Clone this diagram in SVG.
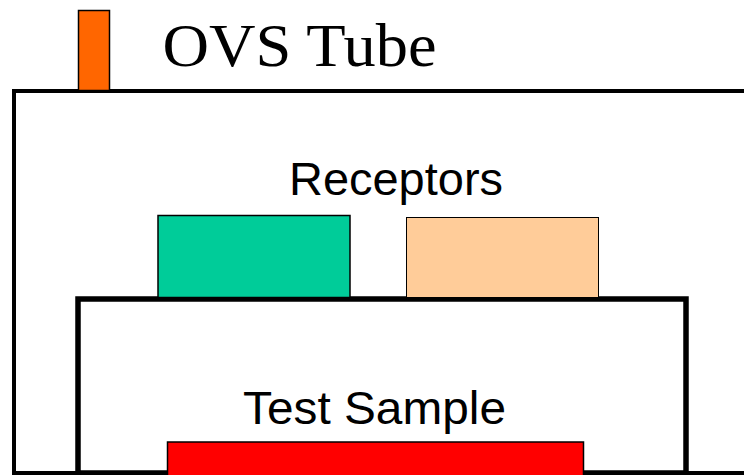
<svg xmlns="http://www.w3.org/2000/svg" width="744" height="475" viewBox="0 0 744 475">
<style>
.sans{font-family:"Liberation Sans",Arial,sans-serif;font-size:47px;fill:#000;text-anchor:middle}
.serif{font-family:"Liberation Serif","Times New Roman",serif;font-size:62px;fill:#000}
.box{stroke:#000;stroke-width:1.5}
</style>
<rect width="744" height="475" fill="#fff"/>
<g id="tube">
<rect x="14" y="91" width="760" height="382" fill="#fff" stroke="#000" stroke-width="4"/>
</g>
<g id="vent">
<rect x="78.5" y="10.5" width="31" height="80" fill="#FF6600" class="box"/>
</g>
<g id="title">
<text x="162.5" y="65.5" class="serif" textLength="274" lengthAdjust="spacingAndGlyphs">OVS Tube</text>
</g>
<g id="sample-holder">
<rect x="78" y="299" width="608" height="174" fill="#fff" stroke="#000" stroke-width="5.5"/>
<text x="374.5" y="424.3" class="sans" textLength="263" lengthAdjust="spacingAndGlyphs">Test Sample</text>
</g>
<g id="receptor-green">
<rect x="158" y="215.5" width="192" height="82" fill="#00CC99" class="box"/>
</g>
<g id="receptor-peach">
<rect x="406.5" y="217.5" width="192" height="80" fill="#FFCC99" stroke="#000" stroke-width="1"/>
</g>
<g id="receptors-label">
<text x="396" y="195" class="sans" textLength="214" lengthAdjust="spacingAndGlyphs">Receptors</text>
</g>
<g id="sample">
<rect x="167.5" y="442" width="416" height="35" fill="#FF0000" class="box"/>
</g>
<g id="connectors"></g>
</svg>
